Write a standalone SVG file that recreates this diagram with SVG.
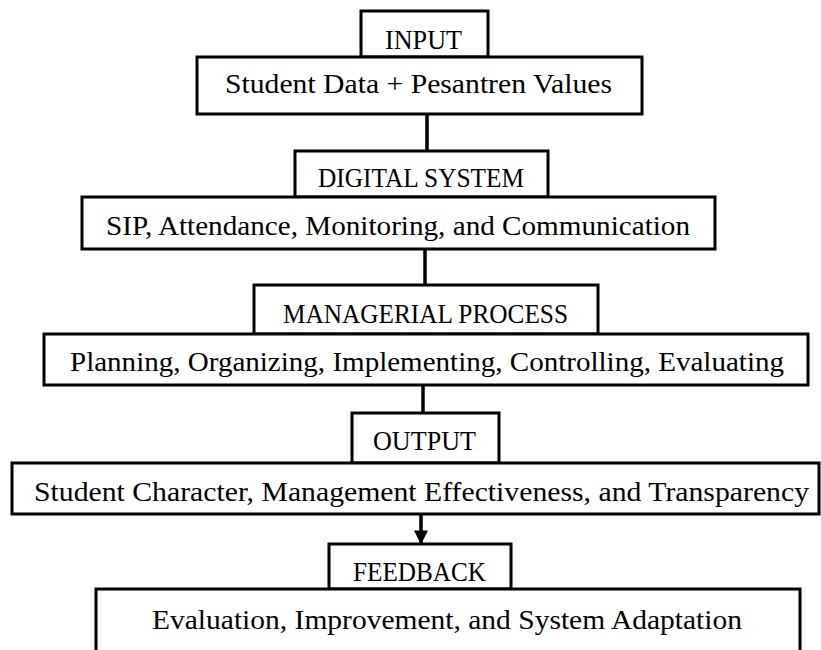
<svg xmlns="http://www.w3.org/2000/svg" width="821" height="650" viewBox="0 0 821 650">
<style>
.box{fill:#fff;stroke:#000;stroke-width:3}
.t{font-family:"Liberation Serif","Times New Roman",serif;font-size:27px;fill:#000}
.con{stroke:#000;stroke-width:3.5;fill:none}
</style>
<defs>
<marker id="arr" markerWidth="4" markerHeight="4" refX="3.6" refY="2" orient="auto" markerUnits="strokeWidth">
<path d="M0,0 L4,2 L0,4 Z" fill="#000"/>
</marker>
</defs>
<rect width="821" height="650" fill="#fff"/>
<g id="connectors">
<line class="con" x1="427" y1="114" x2="427" y2="151"/>
<line class="con" x1="425" y1="249" x2="425" y2="285"/>
<line class="con" x1="423" y1="385" x2="423" y2="413"/>
<line class="con" x1="421" y1="514" x2="421" y2="543" marker-end="url(#arr)"/>
</g>
<g id="input">
<rect class="box" x="361" y="11" width="127" height="46"/>
<text class="t" x="385" y="49" textLength="77" lengthAdjust="spacingAndGlyphs">INPUT</text>
</g>
<g id="input-detail">
<rect class="box" x="197" y="57" width="445" height="57"/>
<text class="t" x="225" y="93" textLength="387" lengthAdjust="spacingAndGlyphs">Student Data + Pesantren Values</text>
</g>
<g id="digital">
<rect class="box" x="295" y="151" width="253" height="46"/>
<text class="t" x="318" y="187" textLength="206" lengthAdjust="spacingAndGlyphs">DIGITAL SYSTEM</text>
</g>
<g id="digital-detail">
<rect class="box" x="82" y="197" width="633" height="52"/>
<text class="t" x="106" y="235" textLength="584" lengthAdjust="spacingAndGlyphs">SIP, Attendance, Monitoring, and Communication</text>
</g>
<g id="managerial">
<rect class="box" x="254" y="285" width="344" height="49"/>
<text class="t" x="283" y="323" textLength="285" lengthAdjust="spacingAndGlyphs">MANAGERIAL PROCESS</text>
</g>
<g id="managerial-detail">
<rect class="box" x="44" y="334" width="764" height="51"/>
<text class="t" x="70" y="371" textLength="714" lengthAdjust="spacingAndGlyphs">Planning, Organizing, Implementing, Controlling, Evaluating</text>
</g>
<g id="output">
<rect class="box" x="352" y="413" width="147" height="50"/>
<text class="t" x="373" y="450" textLength="103" lengthAdjust="spacingAndGlyphs">OUTPUT</text>
</g>
<g id="output-detail">
<rect class="box" x="12" y="463" width="807" height="51"/>
<text class="t" x="34" y="501" textLength="775" lengthAdjust="spacingAndGlyphs">Student Character, Management Effectiveness, and Transparency</text>
</g>
<g id="feedback">
<rect class="box" x="329" y="544" width="182" height="45"/>
<text class="t" x="353" y="581" textLength="133" lengthAdjust="spacingAndGlyphs">FEEDBACK</text>
</g>
<g id="feedback-detail">
<rect class="box" x="96" y="589" width="704" height="80"/>
<text class="t" x="152" y="629" textLength="590" lengthAdjust="spacingAndGlyphs">Evaluation, Improvement, and System Adaptation</text>
</g>
</svg>
